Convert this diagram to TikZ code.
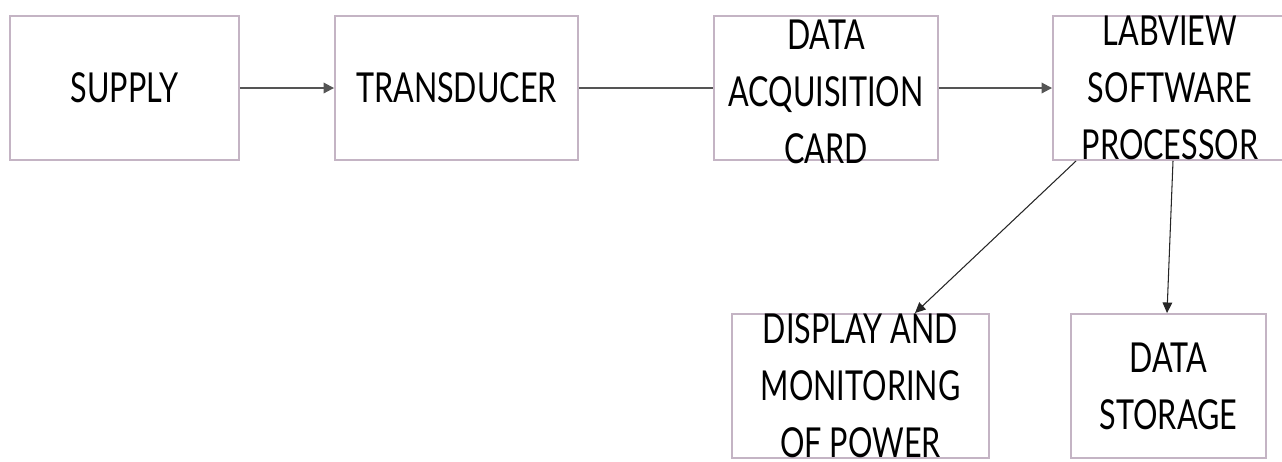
\documentclass[tikz,border=0pt]{standalone}
\usepackage{fontspec}
\setmainfont{Lato}[FakeStretch=0.74]
\usepackage{tikz}
\usetikzlibrary{arrows.meta}

\definecolor{boxline}{RGB}{196,180,196}
\definecolor{flowline}{RGB}{85,85,85}

\tikzset{
    block/.style={draw=boxline, line width=1.1pt, rectangle, inner sep=0pt},
    txt/.style={align=center, font=\fontsize{23.5}{32.4}\selectfont, inner sep=0pt},
    flow/.style={draw=flowline, line width=1.1pt, -{Triangle[length=6pt,width=6pt]}},
    link/.style={draw=flowline, line width=1.1pt},
    thinflow/.style={draw=black!85, line width=0.6pt, -{Triangle[length=6pt,width=5.5pt]}}
}

\begin{document}
\begin{tikzpicture}[x=0.02cm, y=-0.02cm]
\useasboundingbox (0,0) rectangle (1282,461);
\clip (0,0) rectangle (1282,461);

%%% blocs

% first row
\node[block, minimum width=4.58cm, minimum height=2.88cm, label={[txt]center:SUPPLY}] (supply) at (124.5,88) {};
\node[block, minimum width=4.86cm, minimum height=2.88cm, label={[txt]center:TRANSDUCER}] (trans) at (456.5,88) {};
\node[block, minimum width=4.48cm, minimum height=2.88cm, label={[txt, yshift=-0.08cm]center:DATA\\ACQUISITION\\CARD}] (daq) at (826,88) {};
\node[block, minimum width=4.68cm, minimum height=2.88cm, label={[txt]center:LABVIEW\\SOFTWARE\\PROCESSOR}] (lab) at (1170,88) {};

% second row
\node[block, minimum width=5.14cm, minimum height=2.88cm, label={[txt]center:DISPLAY AND\\MONITORING\\OF POWER}] (disp) at (860.5,386) {};
\node[block, minimum width=3.9cm, minimum height=2.88cm, label={[txt]center:DATA\\STORAGE}] (stor) at (1168.5,386) {};

%%% liens

\draw[flow] (supply) -- (trans);
\draw[link] (trans) -- (daq);
\draw[flow] (daq) -- (lab);
\draw[thinflow] ([xshift=0.48cm]lab.south west) -- ([xshift=1.09cm]disp.north);
\draw[thinflow] ([xshift=0.06cm]lab.south) -- ([xshift=-0.03cm]stor.north);

\end{tikzpicture}
\end{document}
